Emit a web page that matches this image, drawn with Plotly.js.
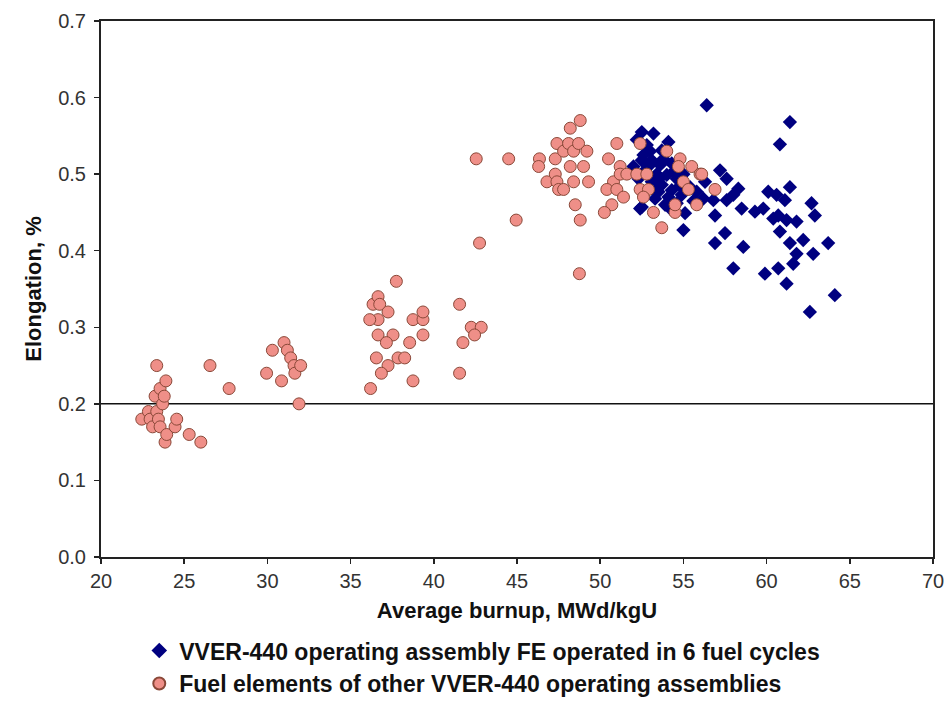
<!DOCTYPE html>
<html>
<head>
<meta charset="utf-8">
<script src="https://cdn.plot.ly/plotly-3.0.1.min.js"></script>
<style>
  html, body { margin: 0; padding: 0; background: #ffffff; }
  #chart { width: 951px; height: 724px; }
</style>
</head>
<body>
<div id="chart"></div>
<script>
// Fuel elements of the assembly operated for 6 cycles (burnup, elongation)
const sixCycleBurnup = [
  52.0, 52.2, 52.3, 52.4, 52.5, 52.5, 52.5, 52.7, 52.8, 52.9,
  53.1, 53.1, 53.2, 53.3, 53.4, 53.5, 53.6, 53.7, 53.7, 53.9,
  54.0, 54.1, 54.1, 54.3, 54.3, 54.6, 54.6, 54.9, 55.0, 55.1,
  55.4, 55.8, 56.2, 56.3, 56.4, 56.8, 56.9, 56.9, 57.2, 57.5,
  57.6, 57.6, 58.0, 58.0, 58.3, 58.5, 58.6, 59.3, 59.8, 59.9,
  60.1, 60.4, 60.6, 60.7, 60.7, 60.8, 60.8, 61.1, 61.2, 61.2,
  61.4, 61.4, 61.4, 61.6, 61.8, 61.8, 62.2, 62.6, 62.7, 62.8,
  62.9, 63.7, 64.1,
  53.0, 53.8, 54.4, 54.8, 53.6, 54.2, 55.6, 53.2, 52.6, 55.0
];
const sixCycleElong = [
  0.510, 0.545, 0.494, 0.455, 0.555, 0.518, 0.457, 0.505, 0.538, 0.510,
  0.518, 0.490, 0.553, 0.468, 0.500, 0.477, 0.512, 0.531, 0.486, 0.460,
  0.499, 0.542, 0.470, 0.514, 0.479, 0.494, 0.462, 0.473, 0.427, 0.449,
  0.483, 0.477, 0.468, 0.490, 0.590, 0.466, 0.446, 0.410, 0.505, 0.423,
  0.494, 0.466, 0.473, 0.377, 0.481, 0.455, 0.405, 0.451, 0.455, 0.370,
  0.477, 0.442, 0.473, 0.446, 0.377, 0.539, 0.425, 0.466, 0.440, 0.357,
  0.568, 0.483, 0.410, 0.383, 0.438, 0.396, 0.414, 0.320, 0.462, 0.396,
  0.446, 0.410, 0.342,
  0.530, 0.520, 0.503, 0.485, 0.495, 0.455, 0.465, 0.480, 0.525, 0.500
];

// Fuel elements of the other operating assemblies
const otherBurnup = [
  22.45, 22.85, 22.95, 23.1, 23.25, 23.35, 23.35, 23.45, 23.55, 23.55,
  23.7, 23.8, 23.85, 23.9, 23.95, 24.45, 24.55, 25.3, 26.0, 26.55, 27.7,
  29.95, 30.3, 30.85, 31.0, 31.2, 31.4, 31.6, 31.65, 32.0, 31.9,
  36.2, 36.55, 36.65, 36.65, 36.15, 36.35, 36.65, 36.75, 37.25, 37.55,
  37.15, 37.85, 38.25, 37.25, 36.85, 38.75, 37.75, 38.75, 39.35, 39.35,
  39.35, 38.55,
  41.55, 42.25, 42.85, 42.45, 41.75, 41.55, 42.75, 42.55, 44.5, 44.95,
  46.35, 46.3, 46.8, 47.3, 47.3, 47.4, 47.4, 47.5, 47.8, 47.8,
  48.1, 48.2, 48.2, 48.4, 48.4, 48.5, 48.7, 48.8, 48.8, 48.75,
  49.0, 49.2, 49.3, 50.5, 51.0, 51.2, 50.8, 50.4, 51.0, 51.4,
  50.7, 50.25, 51.2, 51.6,
  52.2, 52.4, 52.9, 52.6, 53.2, 53.7, 52.4, 54.0, 54.8, 54.7,
  55.5, 56.0, 55.0, 55.3, 55.8, 54.5, 56.1, 56.9, 52.8, 54.5
];
const otherElong = [
  0.18, 0.19, 0.18, 0.17, 0.21, 0.19, 0.25, 0.18, 0.17, 0.22,
  0.20, 0.21, 0.15, 0.23, 0.16, 0.17, 0.18, 0.16, 0.15, 0.25, 0.22,
  0.24, 0.27, 0.23, 0.28, 0.27, 0.26, 0.25, 0.24, 0.25, 0.20,
  0.22, 0.26, 0.29, 0.31, 0.31, 0.33, 0.34, 0.33, 0.32, 0.29,
  0.28, 0.26, 0.26, 0.25, 0.24, 0.23, 0.36, 0.31, 0.31, 0.32,
  0.29, 0.28,
  0.33, 0.30, 0.30, 0.29, 0.28, 0.24, 0.41, 0.52, 0.52, 0.44,
  0.52, 0.51, 0.49, 0.52, 0.50, 0.54, 0.49, 0.48, 0.48, 0.53,
  0.54, 0.56, 0.51, 0.53, 0.49, 0.46, 0.54, 0.57, 0.44, 0.37,
  0.51, 0.53, 0.49, 0.52, 0.54, 0.51, 0.49, 0.48, 0.48, 0.47,
  0.46, 0.45, 0.50, 0.50,
  0.50, 0.48, 0.48, 0.47, 0.45, 0.43, 0.54, 0.53, 0.52, 0.51,
  0.51, 0.50, 0.49, 0.48, 0.46, 0.45, 0.50, 0.48, 0.50, 0.46
];

// Elongation acceptance limit
const elongLimit = 0.2;

const seriesNames = [
  'VVER-440 operating assembly FE operated in 6 fuel cycles',
  'Fuel elements of other VVER-440 operating assemblies'
];

const xTicks = [20, 25, 30, 35, 40, 45, 50, 55, 60, 65, 70];
const yTicks = [0, 0.1, 0.2, 0.3, 0.4, 0.5, 0.6, 0.7];
const yTickText = ['0.0', '0.1', '0.2', '0.3', '0.4', '0.5', '0.6', '0.7'];

const FONT = 'Liberation Sans, Arial, sans-serif';

const traces = [
  {
    type: 'scatter', mode: 'markers', name: seriesNames[0],
    x: sixCycleBurnup, y: sixCycleElong,
    marker: { symbol: 'diamond', size: 11, color: '#000080', line: { width: 0 } }
  },
  {
    type: 'scatter', mode: 'markers', name: seriesNames[1],
    x: otherBurnup, y: otherElong,
    marker: { symbol: 'circle', size: 12, color: '#EF8F88', line: { width: 1, color: '#8A4838' } }
  }
];

const layout = {
  width: 951, height: 724,
  margin: { l: 101, r: 18, t: 21, b: 167 },
  paper_bgcolor: '#ffffff', plot_bgcolor: '#ffffff',
  font: { family: FONT, color: '#000000' },
  showlegend: true,
  legend: {
    x: 0.046, y: -0.1345, xanchor: 'left', yanchor: 'top',
    orientation: 'v',
    font: { family: FONT, size: 23, color: '#111111', weight: 'bold' },
    itemsizing: 'constant', itemwidth: 30, tracegroupgap: 0,
    bgcolor: 'rgba(0,0,0,0)'
  },
  xaxis: {
    range: [20, 70], tickvals: xTicks, ticktext: xTicks.map(String),
    showgrid: false, zeroline: false,
    showline: true, linecolor: '#222222', linewidth: 2, mirror: true,
    ticks: 'outside', ticklen: 5, tickcolor: '#222222', tickwidth: 1.5,
    tickfont: { family: FONT, size: 20, color: '#333333' },
    title: { text: 'Average burnup, MWd/kgU', standoff: 12,
             font: { family: FONT, size: 22, color: '#111111', weight: 'bold' } }
  },
  yaxis: {
    range: [0, 0.7], tickvals: yTicks, ticktext: yTickText,
    showgrid: false, zeroline: false,
    showline: true, linecolor: '#222222', linewidth: 2, mirror: true,
    ticks: 'outside', ticklen: 5, tickcolor: '#222222', tickwidth: 1.5,
    ticklabelstandoff: 4,
    tickfont: { family: FONT, size: 20, color: '#333333' },
    title: { text: 'Elongation, %', standoff: 10,
             font: { family: FONT, size: 22, color: '#111111', weight: 'bold' } }
  },
  shapes: [
    { type: 'line', xref: 'paper', yref: 'y', x0: 0, x1: 1, y0: elongLimit, y1: elongLimit,
      line: { color: '#111111', width: 1.5 }, layer: 'below' }
  ]
};

Plotly.newPlot('chart', traces, layout, { staticPlot: true, displayModeBar: false });
</script>
</body>
</html>
